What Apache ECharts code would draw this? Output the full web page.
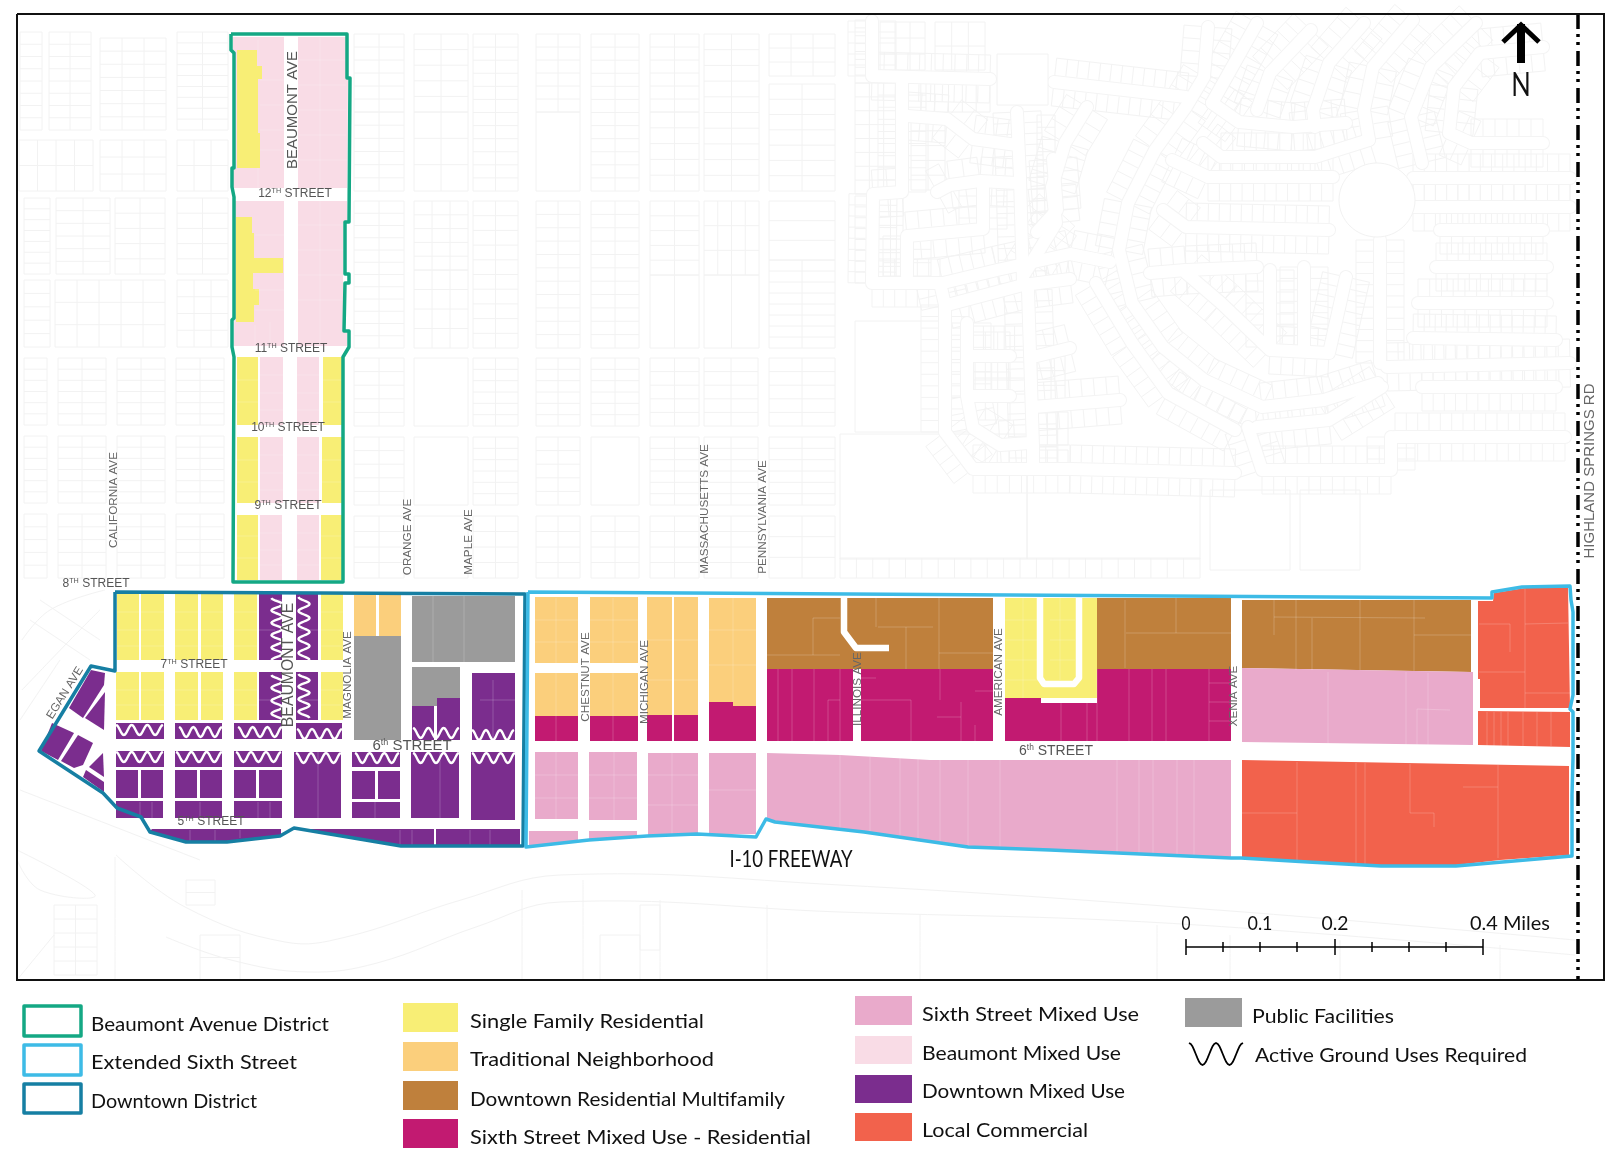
<!DOCTYPE html>
<html>
<head>
<meta charset="utf-8">
<style>html,body{margin:0;padding:0;background:#fff}#c{width:1619px;height:1154px}</style>
<script src="https://cdn.jsdelivr.net/npm/echarts@6/dist/echarts.min.js"></script>
</head>
<body>
<div id="c"></div>
<script>
function rect(a,b,c,d){return [[a,b],[c,b],[c,d],[a,d]];}

// ---- land use polygons (map coordinates) ----
const singleFamily = [
 [[237,50],[257,50],[257,66],[262,66],[262,79],[258,79],[258,133],[260,133],[260,168],[237,168]],
 [[236,217],[252,217],[252,233],[254,233],[254,258],[283,258],[283,273],[253,273],[253,289],[259,289],[259,305],[254,305],[254,322],[236,322]],
 rect(237,357,258,425),rect(323,357,343,425),rect(237,437,258,503),rect(322,437,342,503),rect(237,515,258,580),rect(321,515,342,580),
 rect(117,594,139,660),rect(141,594,164,660),rect(175,594,198,660),rect(201,594,223,660),rect(234,594,257,660),rect(321,594,343,660),
 rect(116,672,139,720),rect(141,672,164,720),rect(175,672,198,720),rect(201,672,223,720),rect(234,672,257,720),rect(321,672,343,720),
 rect(1005,598,1097,698)
];
const traditional = [
 rect(354,595,376,636),rect(379,595,401,636),
 rect(535,597,578,663),rect(590,597,638,663),rect(535,673,578,716),rect(590,673,638,716),
 rect(647,597,672,715),rect(674,597,698,715),
 [[709,598],[756,598],[756,706],[733,706],[733,702],[709,702]]
];
const residentialMulti = [
 rect(767,598,993,669),rect(1097,598,1231,669),
 [[1242,600],[1471,600],[1471,672],[1242,668]]
];
const sixthResidential = [
 rect(535,716,578,741),rect(590,716,638,741),rect(647,715,672,741),rect(674,715,698,741),
 rect(709,702,733,741),rect(733,706,756,741),
 rect(767,669,853,741),rect(861,669,993,741),
 [[1005,698],[1041,698],[1041,703],[1097,703],[1097,669],[1231,669],[1231,741],[1005,741]]
];
const sixthMixed = [
 rect(535,752,578,819),rect(589,752,637,820),rect(648,753,698,835),rect(709,753,756,834),
 [[529,831],[578,831],[578,841],[529,846]],[[589,831],[637,831],[637,837],[589,840]],
 [[767,753],[840,755],[930,760],[1231,760],[1231,858],[1050,850],[968,846],[864,831],[775,822],[767,819]],
 [[1242,668],[1473,672],[1473,745],[1242,742]]
];
const beaumontMixed = [
 [[233,37],[284,37],[284,188],[233,188]],
 [[298,37],[346,37],[346,78],[348,78],[347,188],[298,188]],
 [[235,201],[284,201],[284,346],[234,346]],
 [[298,201],[347,201],[347,221],[343,223],[343,332],[347,332],[347,346],[298,346]],
 rect(260,357,283,425),rect(297,357,319,425),rect(260,437,283,503),rect(297,437,319,503),rect(260,515,282,580),rect(297,515,319,580)
];
const downtownMixed = [
 rect(259,594,282,660),rect(296,594,318,660),rect(259,672,282,720),rect(296,672,318,720),
 rect(116,723,164,739),rect(175,723,222,739),rect(234,723,282,739),rect(296,723,342,739),
 rect(412,706,434,740),rect(437,698,460,740),rect(472,673,515,740),
 rect(116,751,164,767),rect(175,751,222,767),rect(234,751,282,767),
 rect(116,770,138,798),rect(141,770,163,798),rect(175,770,197,798),rect(200,770,222,798),rect(234,770,256,798),rect(259,770,282,798),
 rect(116,801,163,818),rect(175,801,222,818),rect(234,801,282,818),
 rect(294,752,341,818),
 rect(352,752,400,767),rect(352,771,375,799),rect(378,771,400,799),rect(352,802,400,818),
 rect(411,752,459,818),rect(471,752,515,820),
 [[152,829],[281,829],[281,835],[227,841],[186,841],[150,831]],
 [[294,829],[434,829],[434,845],[401,845]],
 rect(436,829,520,845),
 [[91,670],[105,673],[104,685],[83,718],[69,708]],
 [[105,692],[104,730],[85,718]],
 [[52,723],[74,733],[58,760],[41,751]],
 [[78,735],[93,743],[83,765],[74,768],[61,761]],
 [[103,753],[104,777],[89,767]],
 [[86,770],[104,782],[104,792],[83,777]]
];
const localCommercial = [
 [[1478,601],[1493,601],[1494,593],[1525,588],[1568,587],[1570,708],[1480,708],[1480,679],[1478,679]],
 [[1478,711],[1570,712],[1570,747],[1478,745]],
 [[1242,760],[1569,766],[1569,855],[1500,860],[1456,865],[1380,865],[1308,861],[1242,858]]
];
const publicFacilities = [
 rect(354,636,401,740),rect(412,596,515,662),
 [[412,667],[460,667],[460,698],[437,698],[437,706],[412,706]]
];

// ---- district boundaries ----
const beaumontBoundary = [[231,34],[347,34],[347,78],[350,78],[349,222],[345,222],[345,274],[349,274],[349,283],[345,283],[344,331],[349,331],[349,347],[343,357],[343,582],[233,582],[234,357],[232,347],[232,320],[234,318],[234,197],[232,187],[232,168],[234,168],[234,53],[231,50],[231,34]];
const extendedBoundary = [[528,592],[1492,598],[1492,592],[1522,587],[1570,586],[1571,600],[1573,612],[1573,695],[1570,709],[1573,712],[1573,758],[1572,795],[1572,856],[1456,866],[1381,866],[1308,862],[1241,858],[1231,858],[1050,850],[968,847],[864,832],[775,822],[766,819],[756,837],[697,834],[647,836],[589,840],[526,847],[528,592]];
const downtownBoundary = [[115,592],[525,594],[523,846],[401,846],[294,828],[280,836],[227,842],[186,842],[150,832],[141,817],[117,808],[103,793],[39,751],[91,666],[115,671],[115,592]];

// ---- inner roads drawn over the parcels ----
const innerRoads = [
 [[844,597],[844,632],[856,648],[889,648]],
 [[1040,597],[1040,678],[1044,684],[1074,684],[1079,678],[1079,597]]
];

// ---- active ground use wave runs: from, to, cross position, waves ----
const wavesAcross = [[116,163,730,3],[179,222,732,3],[238,282,732,3],[297,342,734,3],[413,459,733,3],[472,514,735,3],
 [116,163,757,3],[176,222,757,3],[236,281,757,3],[296,341,758,3],[355,399,758,3],[413,459,758,3],[472,515,758,3]];
const wavesAlong = [[598,660,277,5],[675,720,277,3.5],[597,660,304,4.5],[674,718,304,3.5]];

// ---- parcel lines over the fills ----
const parcelLines = [
 [1125,600,1125,668],[1176,598,1176,633],[1126,633,1231,633],[1274,600,1274,635],[1296,600,1296,670],[1312,618,1312,670],[1360,600,1360,670],[1414,600,1414,671],[1414,635,1471,635],[1274,617,1425,618],
 [1129,669,1129,741],[1152,669,1152,741],[1166,669,1166,741],[1209,669,1209,741],[1209,702,1231,702],[1209,721,1231,721],[1209,683,1231,683],[1097,669,1097,741],[1061,703,1061,741],[1087,703,1087,741],
 [1328,672,1328,744],[1406,672,1406,745],[1428,673,1428,745],[1417,709,1450,710],[1417,709,1417,745],
 [1297,762,1297,861],[1356,763,1356,864],[1365,763,1365,864],[1242,813,1297,813],[1410,764,1410,813],[1410,813,1434,813],[1434,813,1434,827],[1498,765,1498,858],[1463,787,1498,787],[1525,588,1525,708],[1479,624,1510,624],[1510,624,1510,652],[1479,672,1525,672],[1525,624,1568,623],[1525,693,1570,693],
 [1487,712,1487,746],[1494,712,1494,746],[1501,712,1501,746],[1508,712,1508,746],[1523,712,1523,746],[1537,712,1537,746],[1551,712,1551,746],
 [778,669,778,741],[792,669,792,741],[814,669,814,741],[828,700,828,741],[840,669,840,741],[828,700,840,700],[911,700,911,741],[940,669,940,700],[961,702,961,741],[975,725,975,741],[861,678,876,678],[861,700,911,700],[937,717,961,717],[975,691,993,691],
 [813,618,813,655],[813,618,840,618],[767,655,840,655],[876,598,876,627],[906,627,906,669],[878,627,933,627],[939,598,939,669],[939,653,993,653],
 [840,755,840,832],[870,757,870,836],[900,758,900,840],[918,759,918,843],[940,760,940,845],[968,760,968,846],[1000,760,1000,848],[1117,760,1117,853],[1139,760,1139,854],[1153,760,1153,855],[1177,760,1177,856],[1194,760,1194,857],
 [556,598,556,663],[556,673,556,716],[613,598,613,663],[613,673,613,716],[556,716,556,741],[613,716,613,741],[614,752,614,820],[556,752,556,819],[672,753,672,835],[733,598,733,702],
 [535,620,578,620],[535,642,578,642],[590,620,638,620],[590,642,638,642],[647,640,672,640],[674,640,698,640],[647,680,672,680],[674,680,698,680],[709,630,756,630],[709,665,756,665],[648,775,698,775],[648,805,698,805],[709,790,756,790],[535,775,578,775],[535,798,578,798],[589,775,637,775],[589,798,637,798],
 [1005,620,1041,620],[1005,640,1041,640],[1005,660,1041,660],[1005,680,1041,680],[1050,620,1075,620],[1050,640,1075,640],[1050,660,1075,660],[1023,598,1023,698],[1060,598,1060,680],
 [117,612,164,612],[117,630,164,630],[117,646,164,646],[175,612,223,612],[175,630,223,630],[175,646,223,646],[234,612,257,612],[234,630,257,630],[234,646,257,646],[321,612,343,612],[321,630,343,630],[321,646,343,646],[116,690,164,690],[116,705,164,705],[175,690,223,690],[175,705,223,705],[234,690,257,690],[234,705,257,705],[321,690,343,690],[321,705,343,705],
 [237,380,258,380],[237,402,258,402],[323,380,343,380],[323,402,343,402],[237,460,258,460],[237,482,258,482],[322,460,342,460],[322,482,342,482],[237,536,258,536],[237,558,258,558],[321,536,342,536],[321,558,342,558],
 [260,375,283,375],[260,393,283,393],[260,410,283,410],[297,375,319,375],[297,393,319,393],[297,410,319,410],[260,455,283,455],[260,473,283,473],[260,490,283,490],[297,455,319,455],[297,473,319,473],[297,490,319,490],[260,533,282,533],[260,550,282,550],[260,565,282,565],[297,533,319,533],[297,550,319,550],[297,565,319,565],
 [258,40,258,50],[258,168,258,188],[298,60,346,60],[298,85,346,85],[298,110,346,110],[298,135,346,135],[298,160,347,160],[320,38,320,188],[260,80,284,80],[260,105,284,105],[260,130,284,130],[260,150,284,150],[298,225,343,225],[298,250,343,250],[298,275,343,275],[298,300,343,300],[320,201,320,346],[255,235,284,235],[255,290,284,290],[255,310,284,310],[255,325,255,346],[270,322,270,346],
 [433,596,433,662],[464,596,464,662],[493,680,493,740],[440,752,440,818],[318,752,318,818],[140,802,140,818],[152,802,152,818],[200,802,200,818],[258,802,258,818],[270,802,270,818],[375,802,375,818],[190,830,190,841],[215,830,215,841],[240,830,240,838],[400,830,400,845],[412,830,412,845],[470,830,470,845],[490,830,490,845],[270,600,282,600],[259,630,275,630],[259,700,270,700],[300,630,318,630],[300,700,318,700],[480,700,515,700]
];

// ---- faint city blocks behind the plan: left, top, right, bottom, columns, rows ----
const cityBlocks = [
 [354,34,404,112,2,6],[354,112,404,191,2,6],[414,34,468,112,2,5],[414,112,468,191,2,3],[473,34,518,191,2,12],[536,34,580,112,2,6],[536,112,580,191,1,1],[591,34,639,191,2,12],[650,34,699,112,2,6],[650,112,699,191,2,5],[704,34,759,191,2,10],[769,34,835,76,3,3],[769,84,835,191,2,7],
 [354,201,404,348,2,12],[414,201,468,270,3,5],[414,270,468,348,3,4],[473,201,518,348,2,10],[536,201,580,348,2,11],[591,201,639,348,2,11],[650,201,699,275,2,5],[650,275,699,348,2,1],[704,201,759,275,4,3],[704,275,759,348,2,1],[769,201,835,260,1,3],[769,260,835,348,2,8],
 [354,358,404,426,2,5],[414,358,468,426,1,1],[473,358,518,426,2,6],[536,358,580,426,2,6],[591,358,639,426,2,6],[650,358,699,426,2,5],[704,358,758,426,2,5],[769,358,835,426,2,5],
 [354,437,404,505,2,5],[414,437,468,505,1,1],[473,437,518,505,2,6],[536,437,580,505,2,5],[591,437,639,505,1,1],[650,437,699,505,2,6],[704,437,758,505,2,6],[769,437,835,505,2,6],
 [354,516,404,578,2,4],[414,516,468,578,1,1],[473,516,518,578,2,4],[536,516,580,578,2,4],[591,516,639,578,2,4],[650,516,699,578,2,4],[704,516,758,578,2,4],[769,516,835,578,2,3],
 [20,32,42,130,1,8],[49,32,91,130,2,8],[100,38,166,130,3,7],[177,32,228,130,2,9],
 [19,140,93,191,4,2],[100,140,166,191,3,3],[177,140,228,191,3,2],
 [24,198,50,274,1,7],[56,198,110,274,2,6],[115,198,165,274,2,5],[177,198,228,274,2,5],
 [24,280,50,347,1,5],[55,280,165,347,5,3],[177,280,228,347,3,4],
 [24,358,47,425,1,6],[58,358,106,425,2,6],[117,358,165,425,2,6],[176,358,224,425,2,6],
 [24,436,47,503,1,6],[58,436,106,503,2,6],[117,436,165,503,2,6],[176,436,224,503,2,6],
 [24,514,47,578,1,5],[58,514,106,578,2,5],[117,514,165,578,2,5],[176,514,224,578,2,5],
 [855,321,942,432,1,1],[840,434,1027,559,1,1],[1027,474,1200,559,1,1],[1210,490,1290,570,1,1],[1300,490,1360,570,1,1],
 [840,558,1200,578,22,1],[855,20,870,83,1,8],[855,83,898,194,3,8],[855,196,870,283,1,8],
 [907,83,990,112,6,1],[911,116,945,190,2,5],[878,198,903,280,2,6],[1037,115,1055,225,1,9],[1037,356,1065,400,2,3],[1037,412,1068,445,3,2],[1037,450,1068,468,3,1],[975,362,1025,394,3,2],[973,326,1025,350,5,1],[880,22,925,70,3,3],[935,22,985,70,3,2],
 [54,905,97,975,2,5],[186,880,215,905,1,2],[200,935,240,980,1,2],[600,935,640,980,1,1],[640,905,660,950,1,1]
];
// ---- faint suburban streets and lots ----
const suburbStreets = [
 [[1208,27],[1204,77],[1186,107],[1155,150],[1128,203],[1119,250],[1132,303],[1163,347],[1204,380],[1262,407],[1324,400],[1378,383]],
 [[1212,103],[1239,122],[1293,127],[1346,123]],
 [[1203,143],[1221,157],[1315,157],[1369,140]],
 [[1172,160],[1208,177],[1333,177]],
 [[1163,210],[1186,227],[1329,230]],
 [[1150,273],[1186,270],[1257,267]],
 [[1364,23],[1329,63],[1313,110],[1315,127]],
 [[1413,20],[1373,67],[1364,110],[1369,140]],
 [[1476,23],[1431,67],[1411,117],[1422,163]],
 [[1543,47],[1480,53],[1454,87],[1449,133],[1471,143],[1543,143]],
 [[1257,23],[1212,103]],
 [[1311,30],[1270,73],[1257,110]],
 [[1413,178],[1570,178]],[[1413,207],[1570,207]],
 [[1440,230],[1543,230]],[[1436,267],[1547,267]],[[1418,303],[1547,303]],[[1413,338],[1556,340]],[[1387,367],[1570,363]],[[1422,387],[1556,387]],[[1395,437],[1565,437]],
 [[1096,283],[1132,343],[1168,393],[1235,430]],
 [[1186,273],[1221,303],[1270,350],[1329,353],[1346,277]],
 [[1270,270],[1270,347]],[[1304,267],[1304,347]],[[1380,240],[1380,363]],
 [[1248,427],[1262,470],[1391,470],[1391,437]],
 [[1257,427],[1329,420],[1382,387]],
 [[1087,107],[1065,143],[1052,187],[1056,223],[1025,273]],
 [[1054,82],[1186,97]],
 [[872,21],[872,76],[990,79]],
 [[902,83],[902,192],[873,194],[872,283],[940,283],[945,305],[945,432],[973,469],[1070,469],[1235,473]],
 [[907,116],[947,119],[973,139],[1017,145]],
 [[1017,112],[1020,178],[1023,283]],
 [[937,192],[950,185],[980,181],[1017,183]],
 [[983,185],[983,229],[907,236],[907,276]],
 [[943,283],[997,270],[1070,254],[1110,262]],
 [[1023,285],[1070,279]],
 [[967,323],[967,396],[973,428],[1000,445],[1030,443]],
 [[947,305],[1023,285]],
 [[1028,290],[1033,447],[1033,469]],
 [[973,356],[1010,356]],[[973,396],[1010,396]],
 [[1037,356],[1070,348]],[[1033,407],[1120,400]],
 [[1053,159],[1057,210],[1037,232]]
];
const freewayLines = [
 [[116,855],[185,907],[285,942],[346,937],[461,900],[560,875],[840,885],[1217,910],[1575,940]],
 [[166,937],[231,960],[308,972],[377,963],[476,927],[560,902],[840,912],[1165,923],[1575,955]],
 [[115,857],[115,980]],[[522,890],[522,980]],[[583,880],[583,980]],[[660,900],[660,980]],[[767,905],[767,980]],[[920,915],[920,980]],[[1157,925],[1157,980]],[[1230,935],[1230,980]],[[1340,940],[1340,980]],[[1500,945],[1500,980]],
 [[17,850],[95,895],[40,890],[17,860]],[[17,980],[54,935]],
 [[22,640],[50,610],[105,590]],[[22,690],[70,640],[100,610]],[[20,720],[60,660]],[[30,620],[90,660]],[[40,600],[100,640]],[[20,790],[200,860]]
];
const circles = [[1377,200,38,37]];
const squareCourt = [[997,54],[1048,54],[1048,105],[997,105],[997,54]];

// ---- text ----
const streetLabels = [
 ['BEAUMONT AVE',293,110,90,15,'#555'],['CALIFORNIA AVE',114,500,90,11.7,'#666'],['ORANGE AVE',408,537,90,11.7,'#666'],['MAPLE AVE',469,542,90,11.7,'#666'],
 ['MASSACHUSETTS AVE',705,509,90,11.7,'#666'],['PENNSYLVANIA AVE',763,517,90,11.7,'#666'],['EGAN AVE',65,693,58,11.7,'#666'],
 ['BEAUMONT AVE',289,665,90,15.8,'#555'],['MAGNOLIA AVE',348,675,90,11.7,'#666'],['CHESTNUT AVE',586,677,90,11.7,'#666'],['MICHIGAN AVE',645,682,90,11.7,'#666'],
 ['ILLINOIS AVE',858,689,90,11.7,'#666'],['AMERICAN AVE',999,672,90,11.7,'#666'],['XENIA AVE',1234,696,90,11.7,'#666'],['HIGHLAND SPRINGS RD',1590,471,90,15,'#666']
];
const ordinalLabels = [
 ['12','TH',' STREET',295,194,12],['11','TH',' STREET',291,349,12],['10','TH',' STREET',288,428,12],['9','TH',' STREET',288,506,12],
 ['8','TH',' STREET',96,584,12],['7','TH',' STREET',194,665,12],['6','th',' STREET',412,746,15],['5','TH',' STREET',211,822,12],['6','th',' STREET',1056,751,14]
];
const legendFont = 'Lato';
// text, x, y, width on the page, anchor
const legendTexts = [
 ['Beaumont Avenue District',91,1025,238],['Extended Sixth Street',91,1063,206],['Downtown District',91,1102,166],
 ['Single Family Residential',470,1022,234],['Traditional Neighborhood',470,1060,244],['Downtown Residential Multifamily',470,1100,315],['Sixth Street Mixed Use - Residential',470,1138,341],
 ['Sixth Street Mixed Use',922,1015,217],['Beaumont Mixed Use',922,1054,199],['Downtown Mixed Use',922,1092,203],['Local Commercial',922,1131,166],
 ['Public Facilities',1252,1017,142],['Active Ground Uses Required',1255,1056,272],
 ['I-10 FREEWAY',791,860,123,'center'],['0',1186,924,9,'center'],['0.1',1260,924,25,'center'],['0.2',1335,924,27,'center'],['0.4 Miles',1510,924,80,'center']
];
const northLabel = ['N',1521,86];
const legendBoxes = [
 ['singleFamily',403,1003,458,1032],['traditional',403,1042,458,1071],['residentialMulti',403,1081,458,1110],['sixthResidential',403,1119,458,1148],
 ['sixthMixed',855,996,912,1025],['beaumontMixed',855,1036,912,1064],['downtownMixed',855,1075,912,1103],['localCommercial',855,1113,912,1141],['publicFacilities',1185,998,1242,1027]
];
const legendOutlines = [['beaumont',24,1006,81,1036],['extended',24,1045,81,1075],['downtown',24,1084,81,1113]];
const legendWave = [1189,1243,1054];
const scaleBar = [1186,1483,947];
const scaleTicks = [1186,1223,1260,1297,1335,1372,1409,1446,1483];
const scaleMajor = [1186,1335,1483];

const colors = {singleFamily:'#F8EE75',traditional:'#FBCF7C',residentialMulti:'#BF803C',sixthResidential:'#C21A71',sixthMixed:'#E9AACB',beaumontMixed:'#F9DCE6',downtownMixed:'#7B2D8E',localCommercial:'#F2624C',publicFacilities:'#9B9B9B',beaumont:'#14A884',extended:'#3DBBE6',downtown:'#167FA3'};

function pts(api,list){return list.map(p=>api.coord(p));}
function polySeries(name,polys,color){
 return {type:'custom',name,coordinateSystem:'cartesian2d',z:3,silent:true,clip:false,data:polys.map((_,i)=>[i]),
  renderItem:(p,api)=>({type:'polygon',shape:{points:pts(api,polys[p.dataIndex])},style:{fill:color,stroke:null}})};
}
function group(name,z,list,build){
 return {type:'custom',name,coordinateSystem:'cartesian2d',z,silent:true,clip:false,data:list.map((_,i)=>[i]),
  renderItem:(p,api)=>build(list[p.dataIndex],api)};
}
function line(api,list,style,smooth){return {type:'polyline',shape:{points:pts(api,list),smooth:smooth||0},style:Object.assign({fill:null},style)};}
function wave(api,a,b,c,n,horizontal,color,amp,width){
 const out=[],steps=Math.round(n*16);
 for(let i=0;i<=steps;i++){const t=i/steps,u=a+(b-a)*t,v=c-amp*Math.cos(t*n*2*Math.PI);out.push(api.coord(horizontal?[u,v]:[v,u]));}
 return {type:'polyline',shape:{points:out},style:{fill:null,stroke:color,lineWidth:width}};
}
const meter=document.createElement('canvas').getContext('2d');
function fitScale(text,font,width){meter.font=font;return width/meter.measureText(text).width;}

const faint='#f2f2f2';
const series = [
 group('cityBlocks',1,cityBlocks,(b,api)=>{
  const kids=[],st={stroke:faint,lineWidth:1,fill:null};
  const [x0,y0,x1,y1,cols,rows]=b;
  kids.push({type:'polygon',shape:{points:pts(api,rect(x0,y0,x1,y1))},style:st});
  for(let c=1;c<cols;c++){const x=x0+(x1-x0)*c/cols;kids.push(line(api,[[x,y0],[x,y1]],st));}
  for(let r=1;r<rows;r++){const y=y0+(y1-y0)*r/rows;kids.push(line(api,[[x0,y],[x1,y]],st));}
  return {type:'group',children:kids};
 }),
 group('suburbLots',1,suburbStreets,(s,api)=>{
  const kids=[],st={stroke:'#f3f3f3',lineWidth:1};
  for(let i=0;i<s.length-1;i++){
   const dx=s[i+1][0]-s[i][0],dy=s[i+1][1]-s[i][1],L=Math.hypot(dx,dy),nx=-dy/L,ny=dx/L,n=Math.max(1,Math.floor(L/11));
   for(let k=0;k<=n;k++){const t=k/n,x=s[i][0]+dx*t,y=s[i][1]+dy*t;
    kids.push(line(api,[[x+nx*7,y+ny*7],[x+nx*24,y+ny*24]],st));
    kids.push(line(api,[[x-nx*7,y-ny*7],[x-nx*24,y-ny*24]],st));}
   kids.push(line(api,[[s[i][0]+nx*24,s[i][1]+ny*24],[s[i+1][0]+nx*24,s[i+1][1]+ny*24]],st));
   kids.push(line(api,[[s[i][0]-nx*24,s[i][1]-ny*24],[s[i+1][0]-nx*24,s[i+1][1]-ny*24]],st));
  }
  return {type:'group',children:kids};
 }),
 group('suburbEdges',2,suburbStreets,(s,api)=>line(api,s,{stroke:'#f4f4f4',lineWidth:14,lineJoin:'round',lineCap:'round'})),
 group('suburbStreets',2,suburbStreets,(s,api)=>line(api,s,{stroke:'#ffffff',lineWidth:12,lineJoin:'round',lineCap:'round'})),
 group('freewayLines',1,freewayLines,(s,api)=>line(api,s,{stroke:faint,lineWidth:1},0.4)),
 group('circles',2,circles,(c,api)=>{const q=api.coord([c[0],c[1]]);return {type:'ellipse',shape:{cx:q[0],cy:q[1],rx:c[2],ry:c[3]},style:{fill:'#fff',stroke:faint,lineWidth:1}};}),
 group('court',2,[squareCourt],(c,api)=>({type:'polygon',shape:{points:pts(api,c)},style:{fill:'#fff',stroke:faint,lineWidth:1}})),
 polySeries('Beaumont Mixed Use',beaumontMixed,colors.beaumontMixed),
 polySeries('Single Family Residential',singleFamily,colors.singleFamily),
 polySeries('Traditional Neighborhood',traditional,colors.traditional),
 polySeries('Downtown Residential Multifamily',residentialMulti,colors.residentialMulti),
 polySeries('Sixth Street Mixed Use - Residential',sixthResidential,colors.sixthResidential),
 polySeries('Sixth Street Mixed Use',sixthMixed,colors.sixthMixed),
 polySeries('Downtown Mixed Use',downtownMixed,colors.downtownMixed),
 polySeries('Local Commercial',localCommercial,colors.localCommercial),
 polySeries('Public Facilities',publicFacilities,colors.publicFacilities),
 group('parcelLines',4,parcelLines,(l,api)=>line(api,[[l[0],l[1]],[l[2],l[3]]],{stroke:'rgba(255,255,255,0.2)',lineWidth:1})),
 group('innerRoads',5,innerRoads,(r,api)=>line(api,r,{stroke:'#fff',lineWidth:6.5,lineJoin:'round'})),
 group('wavesAcross',6,wavesAcross,(w,api)=>wave(api,w[0],w[1],w[2],w[3],true,'#fff',5,2.4)),
 group('wavesAlong',6,wavesAlong,(w,api)=>wave(api,w[0],w[1],w[2],w[3],false,'#fff',5.5,2.4)),
 group('boundaries',7,[[beaumontBoundary,'beaumont'],[downtownBoundary,'downtown'],[extendedBoundary,'extended']],(b,api)=>line(api,b[0],{stroke:colors[b[1]],lineWidth:3.5,lineJoin:'round'})),
 group('highland',7,[[[1578,14],[1578,980]]],(l,api)=>line(api,l,{stroke:'#000',lineWidth:3.5,lineDash:[15,5,3,5,3,6]})),
 group('frame',8,[[[17,14],[1604,14],[1604,980],[17,980],[17,14]]],(l,api)=>line(api,l,{stroke:'#111',lineWidth:2})),
 group('north',8,[0],(_,api)=>({type:'group',children:[
   line(api,[[1521,24],[1521,63]],{stroke:'#000',lineWidth:8}),
   line(api,[[1503,42],[1521,25],[1539,42]],{stroke:'#000',lineWidth:5,lineJoin:'miter'})]})),
 group('scaleBar',8,[scaleBar],(s,api)=>line(api,[[s[0],s[2]],[s[1],s[2]]],{stroke:'#000',lineWidth:1.5})),
 group('scaleTicks',8,scaleTicks,(x,api)=>{const h=scaleMajor.includes(x)?8:5;return line(api,[[x,scaleBar[2]-h],[x,scaleBar[2]+h]],{stroke:'#000',lineWidth:1.5});}),
 group('legendBoxes',8,legendBoxes,(b,api)=>({type:'polygon',shape:{points:pts(api,rect(b[1],b[2],b[3],b[4]))},style:{fill:colors[b[0]]}})),
 group('legendOutlines',8,legendOutlines,(b,api)=>({type:'polygon',shape:{points:pts(api,rect(b[1],b[2],b[3],b[4]))},style:{fill:'#fff',stroke:colors[b[0]],lineWidth:3.5,lineJoin:'round'}})),
 group('legendWave',8,[legendWave],(w,api)=>wave(api,w[0],w[1],w[2],2,true,'#000',11,1.8)),
 group('streetLabels',9,streetLabels,(t,api)=>{const q=api.coord([t[1],t[2]]);return {type:'text',x:q[0],y:q[1],rotation:t[3]*Math.PI/180,originX:0,originY:0,style:{text:t[0],align:'center',verticalAlign:'middle',font:t[4]+'px "Liberation Sans"',fill:t[5]}};}),
 group('ordinalLabels',9,ordinalLabels,(t,api)=>{const q=api.coord([t[3],t[4]]);const s=t[5],f='"Liberation Sans"';
  return {type:'text',x:q[0],y:q[1],style:{text:'{a|'+t[0]+'}{b|'+t[1]+'}{a|'+t[2]+'}',align:'center',verticalAlign:'middle',
   rich:{a:{fontSize:s,fontFamily:f,fill:'#555'},b:{fontSize:s*0.6,fontFamily:f,fill:'#555',verticalAlign:'top',padding:[0,0,4,0]}}}};}),
 group('legendTexts',9,legendTexts,(t,api)=>{const q=api.coord([t[1],t[2]]);const big=t[0]==='I-10 FREEWAY',font=(big?23:20)+'px '+legendFont;
  return {type:'text',x:q[0],y:q[1],scaleX:fitScale(t[0],font,t[3]),style:{text:t[0],align:t[4]||'left',verticalAlign:'middle',font,fill:'#111'}};}),
 group('northLabel',9,[northLabel],(t,api)=>{const q=api.coord([t[1],t[2]]);return {type:'text',x:q[0],y:q[1],scaleX:0.8,style:{text:t[0],align:'center',verticalAlign:'middle',font:'32px '+legendFont,fill:'#111'}};})
];

const chart = echarts.init(document.getElementById('c'),null,{renderer:'canvas'});
chart.setOption({
 animation:false,backgroundColor:'#fff',
 grid:{left:0,right:0,top:0,bottom:0},
 xAxis:{type:'value',min:0,max:1619,show:false},
 yAxis:{type:'value',min:0,max:1154,inverse:true,show:false},
 series
});
</script>
</body>
</html>
